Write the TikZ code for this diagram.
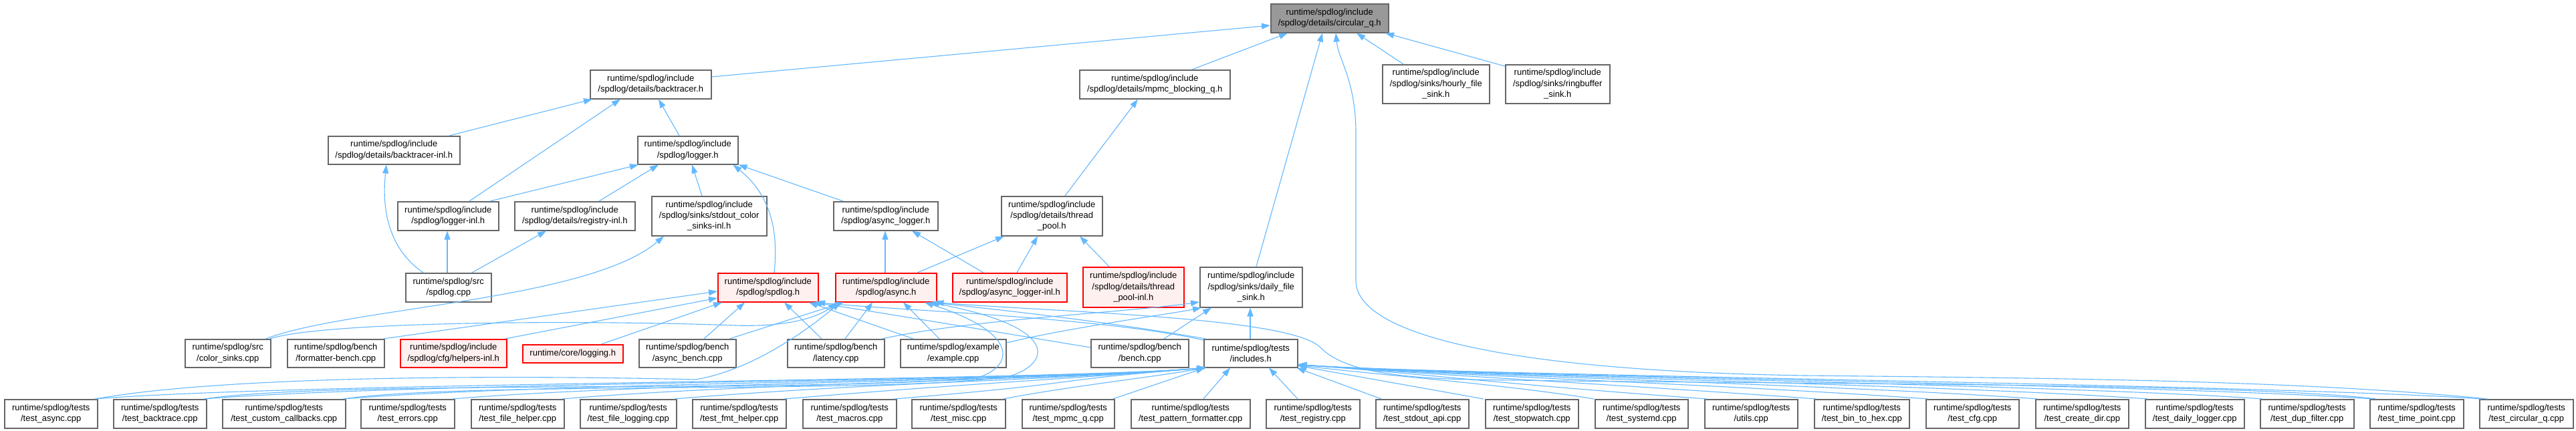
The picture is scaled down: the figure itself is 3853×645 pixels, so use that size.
\documentclass[tikz,border=0pt]{standalone}
\usepackage{fontspec}
\setmainfont{Liberation Sans}
\usetikzlibrary{arrows.meta,calc}
\definecolor{edgeblue}{HTML}{63B8FF}
\definecolor{ndgray}{HTML}{666666}
\definecolor{rootgray}{HTML}{999999}
\definecolor{redfill}{HTML}{FFF0F0}
\newcommand\dxf{\fontsize{13}{16.3}\selectfont}
\tikzset{
  nd/.style={draw=ndgray, fill=white, line width=1.5pt, inner sep=0pt, align=center, anchor=north west, font=\dxf},
  hot/.style={nd, draw=red, fill=redfill},
  root/.style={nd, fill=rootgray},
  edge/.style={draw=edgeblue, line width=1.1pt, -{Triangle[length=13pt,width=9pt]}},
}
\begin{document}
\begin{tikzpicture}[x=1pt,y=-1pt]
\useasboundingbox (0,0) rectangle (3853,645);
\fill[white] (0,0) rectangle (3853,645);
% nodes
\node[root, minimum width=176, minimum height=43] (cq) at (1900,5) {runtime/spdlog/include\\/spdlog/details/circular\_q.h};
\node[nd, minimum width=181, minimum height=43] (bt) at (882,104) {runtime/spdlog/include\\/spdlog/details/backtracer.h};
\node[nd, minimum width=225, minimum height=43] (mpmc) at (1614,104) {runtime/spdlog/include\\/spdlog/details/mpmc\_blocking\_q.h};
\node[nd, minimum width=160, minimum height=58] (hourly) at (2067,96) {runtime/spdlog/include\\/spdlog/sinks/hourly\_file\\\_sink.h};
\node[nd, minimum width=156, minimum height=58] (ring) at (2251,96) {runtime/spdlog/include\\/spdlog/sinks/ringbuffer\\\_sink.h};
\node[nd, minimum width=197, minimum height=42] (bti) at (490,203) {runtime/spdlog/include\\/spdlog/details/backtracer-inl.h};
\node[nd, minimum width=150, minimum height=42] (lg) at (953,203) {runtime/spdlog/include\\/spdlog/logger.h};
\node[nd, minimum width=151, minimum height=43] (lgi) at (594,301) {runtime/spdlog/include\\/spdlog/logger-inl.h};
\node[nd, minimum width=180, minimum height=43] (reg) at (769,301) {runtime/spdlog/include\\/spdlog/details/registry-inl.h};
\node[nd, minimum width=172, minimum height=59] (stdc) at (974,293) {runtime/spdlog/include\\/spdlog/sinks/stdout\_color\\\_sinks-inl.h};
\node[nd, minimum width=156, minimum height=43] (al) at (1246,301) {runtime/spdlog/include\\/spdlog/async\_logger.h};
\node[nd, minimum width=151, minimum height=59] (tp) at (1497,293) {runtime/spdlog/include\\/spdlog/details/thread\\\_pool.h};
\node[nd, minimum width=153, minimum height=60] (dfs) at (1794,399) {runtime/spdlog/include\\/spdlog/sinks/daily\_file\\\_sink.h};
\node[nd, minimum width=128, minimum height=43] (scpp) at (606,408) {runtime/spdlog/src\\/spdlog.cpp};
\node[hot, minimum width=150, minimum height=43] (sh) at (1073,408) {runtime/spdlog/include\\/spdlog/spdlog.h};
\node[hot, minimum width=151, minimum height=43] (ah) at (1249,408) {runtime/spdlog/include\\/spdlog/async.h};
\node[hot, minimum width=171, minimum height=43] (ali) at (1424,408) {runtime/spdlog/include\\/spdlog/async\_logger-inl.h};
\node[hot, minimum width=151, minimum height=60] (tpi) at (1619,399) {runtime/spdlog/include\\/spdlog/details/thread\\\_pool-inl.h};
\node[nd, minimum width=128, minimum height=42] (csc) at (276,507) {runtime/spdlog/src\\/color\_sinks.cpp};
\node[nd, minimum width=145, minimum height=42] (fb) at (429,507) {runtime/spdlog/bench\\/formatter-bench.cpp};
\node[hot, minimum width=159, minimum height=42] (cfg) at (598,507) {runtime/spdlog/include\\/spdlog/cfg/helpers-inl.h};
\node[hot, minimum width=150, minimum height=27] (clog) at (781,515) {runtime/core/logging.h};
\node[nd, minimum width=145, minimum height=42] (ab) at (955,507) {runtime/spdlog/bench\\/async\_bench.cpp};
\node[nd, minimum width=145, minimum height=42] (lat) at (1177,507) {runtime/spdlog/bench\\/latency.cpp};
\node[nd, minimum width=158, minimum height=42] (ex) at (1346,507) {runtime/spdlog/example\\/example.cpp};
\node[nd, minimum width=146, minimum height=42] (bn) at (1631,507) {runtime/spdlog/bench\\/bench.cpp};
\node[nd, minimum width=140, minimum height=42] (inc) at (1800,507) {runtime/spdlog/tests\\/includes.h};
% test row
\node[nd, minimum width=139, minimum height=43] (t1) at (6,597) {runtime/spdlog/tests\\/test\_async.cpp};
\node[nd, minimum width=139, minimum height=43] (t2) at (169,597) {runtime/spdlog/tests\\/test\_backtrace.cpp};
\node[nd, minimum width=184, minimum height=43] (t3) at (332,597) {runtime/spdlog/tests\\/test\_custom\_callbacks.cpp};
\node[nd, minimum width=140, minimum height=43] (t4) at (539,597) {runtime/spdlog/tests\\/test\_errors.cpp};
\node[nd, minimum width=139, minimum height=43] (t5) at (704,597) {runtime/spdlog/tests\\/test\_file\_helper.cpp};
\node[nd, minimum width=144, minimum height=43] (t6) at (867,597) {runtime/spdlog/tests\\/test\_file\_logging.cpp};
\node[nd, minimum width=140, minimum height=43] (t7) at (1035,597) {runtime/spdlog/tests\\/test\_fmt\_helper.cpp};
\node[nd, minimum width=140, minimum height=43] (t8) at (1200,597) {runtime/spdlog/tests\\/test\_macros.cpp};
\node[nd, minimum width=140, minimum height=43] (t9) at (1363,597) {runtime/spdlog/tests\\/test\_misc.cpp};
\node[nd, minimum width=138, minimum height=43] (t10) at (1528,597) {runtime/spdlog/tests\\/test\_mpmc\_q.cpp};
\node[nd, minimum width=178, minimum height=43] (t11) at (1691,597) {runtime/spdlog/tests\\/test\_pattern\_formatter.cpp};
\node[nd, minimum width=140, minimum height=43] (t12) at (1893,597) {runtime/spdlog/tests\\/test\_registry.cpp};
\node[nd, minimum width=139, minimum height=43] (t13) at (2057,597) {runtime/spdlog/tests\\/test\_stdout\_api.cpp};
\node[nd, minimum width=139, minimum height=43] (t14) at (2221,597) {runtime/spdlog/tests\\/test\_stopwatch.cpp};
\node[nd, minimum width=139, minimum height=43] (t15) at (2385,597) {runtime/spdlog/tests\\/test\_systemd.cpp};
\node[nd, minimum width=139, minimum height=43] (t16) at (2549,597) {runtime/spdlog/tests\\/utils.cpp};
\node[nd, minimum width=142, minimum height=43] (t17) at (2713,597) {runtime/spdlog/tests\\/test\_bin\_to\_hex.cpp};
\node[nd, minimum width=139, minimum height=43] (t18) at (2880,597) {runtime/spdlog/tests\\/test\_cfg.cpp};
\node[nd, minimum width=139, minimum height=43] (t19) at (3044,597) {runtime/spdlog/tests\\/test\_create\_dir.cpp};
\node[nd, minimum width=148, minimum height=43] (t20) at (3208,597) {runtime/spdlog/tests\\/test\_daily\_logger.cpp};
\node[nd, minimum width=140, minimum height=43] (t21) at (3380,597) {runtime/spdlog/tests\\/test\_dup\_filter.cpp};
\node[nd, minimum width=140, minimum height=43] (t22) at (3544,597) {runtime/spdlog/tests\\/test\_time\_point.cpp};
\node[nd, minimum width=140, minimum height=43] (t23) at (3708,597) {runtime/spdlog/tests\\/test\_circular\_q.cpp};
% edges to circular_q
\draw[edge] ([yshift=-11pt]bt.north east) -- ([yshift=-33pt]cq.north west);
\draw[edge] ([xshift=169pt]mpmc.north west) -- ([xshift=26pt]cq.south west);
\draw[edge] ([xshift=32pt]hourly.north west) -- ([xshift=129pt]cq.south west);
\draw[edge] ([yshift=-3pt]ring.north west) -- ([xshift=172pt]cq.south west);
\draw[edge] ([xshift=85pt]dfs.north west) -- ([xshift=78pt]cq.south west);
\draw[edge] ([xshift=12pt]t23.north west) .. controls (3450,570) and (3100,566) .. (2700,562) .. controls (2250,555) and (2028,500) .. (2028,420) -- (2028,200) .. controls (2028,120) and (2002,90) .. ([xshift=98pt]cq.south west);
% backtracer
\draw[edge] ([xshift=182pt]bti.north west) -- ([xshift=4pt]bt.south west);
\draw[edge] ([xshift=63pt]lg.north west) -- ([xshift=103pt]bt.south west);
\draw[edge] ([xshift=108pt]lgi.north west) -- ([xshift=46pt]bt.south west);
\draw[edge] ([xshift=96pt]tp.north west) -- ([xshift=88pt]mpmc.south west);
% logger and co
\draw[edge] ([xshift=27pt]scpp.north west) .. controls (585,375) and (570,320) .. ([xshift=88pt]bti.south west);
\draw[edge] ([xshift=139pt]lgi.north west) -- ([xshift=2pt]lg.south west);
\draw[edge] ([xshift=127pt]reg.north west) -- ([xshift=32pt]lg.south west);
\draw[edge] ([xshift=76pt]stdc.north west) -- ([xshift=82pt]lg.south west);
\draw[edge] ([xshift=85pt]sh.north west) .. controls (1165,340) and (1150,290) .. ([xshift=-8pt]lg.south east);
\draw[edge] ([xshift=15pt]al.north west) -- (lg.south east);
\draw[edge] ([xshift=63pt]scpp.north west) -- ([xshift=75pt]lgi.south west);
\draw[edge] ([xshift=100pt]scpp.north west) -- ([xshift=48pt]reg.south west);
\draw[edge] ([xshift=-8pt]csc.north east) .. controls (520,460) and (880,450) .. ([xshift=19pt]stdc.south west);
\draw[edge] ([xshift=75pt]ah.north west) -- ([xshift=78pt]al.south west);
\draw[edge] ([xshift=47pt]ali.north west) -- ([xshift=118pt]al.south west);
\draw[edge] ([xshift=123pt]ah.north west) -- ([xshift=5pt]tp.south west);
\draw[edge] ([xshift=97pt]ali.north west) -- ([xshift=55pt]tp.south west);
\draw[edge] ([xshift=40pt]tpi.north west) -- ([xshift=118pt]tp.south west);
% spdlog.h
\draw[edge] ([xshift=-2pt]fb.north east) -- ([yshift=-28pt]sh.north west);
\draw[edge] ([xshift=-3pt]cfg.north east) -- ([yshift=-38pt]sh.north west);
\draw[edge] ([xshift=-33pt]clog.north east) -- ([xshift=7pt]sh.south west);
\draw[edge] ([xshift=98pt]ab.north west) -- ([xshift=41pt]sh.south west);
\draw[edge] ([xshift=52pt]lat.north west) -- ([xshift=100pt]sh.south west);
\draw[edge] ([xshift=20pt]ex.north west) -- ([xshift=137pt]sh.south west);
\draw[edge] ([yshift=-13pt]bn.north west) .. controls (1450,490) and (1300,465) .. ([xshift=143pt]sh.south west);
\draw[edge] ([yshift=-2pt]inc.north west) .. controls (1650,475) and (1350,465) .. ([xshift=148pt]sh.south west);
% async.h
\draw[edge] ([xshift=-2pt]csc.north east) .. controls (480,482) and (850,478) .. (1100,487) .. controls (1190,490) and (1230,470) .. ([xshift=3pt]ah.south west);
\draw[edge] ([xshift=136pt]ab.north west) -- ([xshift=13pt]ah.south west);
\draw[edge] ([xshift=87pt]lat.north west) -- ([xshift=56pt]ah.south west);
\draw[edge] ([xshift=59pt]ex.north west) -- ([xshift=102pt]ah.south west);
\draw[edge] ([xshift=3pt]inc.north west) .. controls (1650,480) and (1480,462) .. ([xshift=143pt]ah.south west);
\draw[edge] ([xshift=-4pt]t1.north east) .. controls (350,560) and (800,562) .. (1040,568) .. controls (1120,555) and (1200,500) .. ([xshift=8pt]ah.south west);
\draw[edge] ([xshift=-4pt]t2.north east) .. controls (500,568) and (1200,588) .. (1460,566) .. controls (1515,550) and (1530,500) .. ([xshift=134pt]ah.south west);
\draw[edge] ([xshift=-4pt]t3.north east) .. controls (700,570) and (1350,590) .. (1510,563) .. controls (1570,545) and (1590,490) .. ([xshift=141pt]ah.south west);
\draw[edge] ([xshift=10pt]t22.north west) .. controls (3350,572) and (2600,575) .. (2200,568) .. controls (2050,565) and (2000,545) .. (1975,520) .. controls (1930,475) and (1600,468) .. ([xshift=-3pt]ah.south east);
% daily file sink
\draw[edge] ([xshift=70pt]inc.north west) -- ([xshift=76pt]dfs.south west);
\draw[edge] ([xshift=-4pt]lat.north east) .. controls (1450,478) and (1680,468) .. ([yshift=-53pt]dfs.north west);
\draw[edge] ([yshift=-6pt]ex.north east) .. controls (1600,490) and (1750,470) .. ([xshift=3pt]dfs.south west);
\draw[edge] ([xshift=110pt]bn.north west) -- ([xshift=18pt]dfs.south west);
% tests to includes.h
\foreach \n in {t1,t2,t3,t4,t5,t6,t7,t8}{
  \draw[edge] ([xshift=-4pt]\n.north east) .. controls ($(\n.north east)+(300,-25)$) and ($(inc.south west)+(-250,20)$) .. ([xshift=4pt]inc.south west);
}
\draw[edge] ([xshift=-4pt]t9.north east) .. controls (1600,578) and (1720,565) .. ([xshift=3pt]inc.south west);
\draw[edge] ([xshift=-3pt]t10.north east) -- ([xshift=2pt]inc.south west);
\draw[edge] ([xshift=109pt]t11.north west) -- ([xshift=40pt]inc.south west);
\draw[edge] ([xshift=48pt]t12.north west) -- ([xshift=98pt]inc.south west);
\draw[edge] ([xshift=9pt]t13.north west) -- ([xshift=-2pt]inc.south east);
\draw[edge] ([xshift=-2pt]t14.north west) -- ([yshift=3pt]inc.south east);
\draw[edge] ([xshift=-1pt]t15.north west) .. controls (2250,575) and (2050,560) .. ([yshift=4pt]inc.south east);
\foreach \n in {t16,t17,t18,t19,t20,t21,t22,t23}{
  \draw[edge] ([xshift=4pt]\n.north west) .. controls ($(\n.north west)+(-300,-22)$) and ($(inc.south east)+(210,11)$) .. ([yshift=5pt]inc.south east);
}
\end{tikzpicture}
\end{document}
